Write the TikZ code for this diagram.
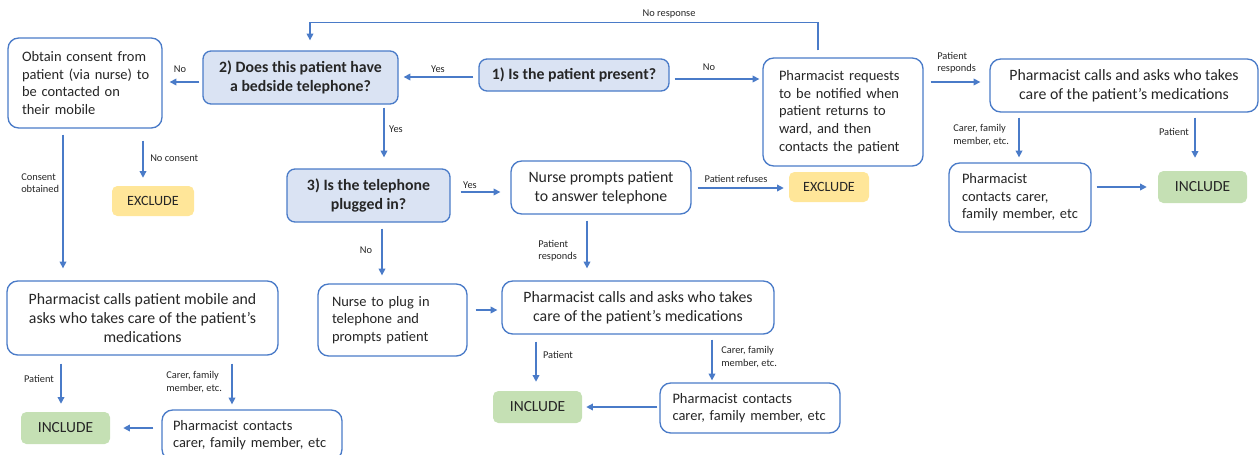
\documentclass[tikz,border=0pt]{standalone}
\usepackage{fontspec}
\setmainfont{Carlito}
\usetikzlibrary{calc,arrows.meta}
\definecolor{bl}{HTML}{4A7BC8}
\definecolor{qfill}{HTML}{DAE3F3}
\definecolor{gfill}{HTML}{C5E0B4}
\definecolor{yfill}{HTML}{FFE699}
\definecolor{txt}{HTML}{262626}
\begin{document}
\begin{tikzpicture}[x=0.75pt,y=-0.75pt,
  base/.style={draw=bl, line width=1pt, text=txt, inner sep=0pt, align=center},
  qbox/.style={base, fill=qfill, rounded corners=6pt, font=\bfseries\fontsize{11.85}{14.2}\selectfont},
  cbox/.style={base, fill=white, rounded corners=8pt, font=\fontsize{11.85}{14.2}\selectfont},
  lbox/.style={base, fill=white, rounded corners=8pt, align=left, font=\fontsize{10.85}{13.2}\selectfont},
  inc/.style={fill=gfill, rounded corners=4pt, text=txt, inner sep=0pt, minimum width=66.75pt, minimum height=24pt, font=\fontsize{11.6}{13}\selectfont},
  exc/.style={fill=yfill, rounded corners=4pt, text=txt, inner sep=0pt, minimum height=22.5pt, font=\fontsize{10.6}{12}\selectfont},
  arr/.style={draw=bl, line width=1pt, -{Triangle[length=5pt,width=5pt]}},
  lab/.style={font=\fontsize{7.8}{9.2}\selectfont, text=txt, inner sep=0pt, align=left}
]
\useasboundingbox (0,0) rectangle (1259,454);

% question boxes
\node[qbox, minimum width=142.5pt, minimum height=24pt] (q1) at (574,75) {1) Is the patient present?};
\node[qbox, minimum width=146.25pt, minimum height=39.75pt] (q2) at (300.5,77.5) {2) Does this patient have\\a bedside telephone?};
\node[qbox, minimum width=122.25pt, minimum height=39.75pt] (q3) at (368.5,195.5) {3) Is the telephone\\plugged in?};

% left aligned boxes
\node[lbox, minimum width=115.5pt, minimum height=67.5pt, inner xsep=10.5pt, text width=94.5pt] (consent) at (85,83)
  {Obtain~consent~from\\patient~(via~nurse)~to\\be~contacted~on\\their~mobile};
\node[lbox, minimum width=120pt, minimum height=81pt, inner xsep=12pt, text width=96pt] (req) at (843,112)
  {Pharmacist~requests\\to~be~notified~when\\patient~returns~to\\ward,~and~then\\contacts~the~patient};
\node[lbox, minimum width=106.5pt, minimum height=51.75pt, inner xsep=9.75pt, text width=87pt] (contR) at (1020,197.5)
  {Pharmacist\\contacts~carer,\\family~member,~etc};
\node[lbox, minimum width=111.75pt, minimum height=54pt, inner xsep=10.5pt, text width=90.75pt] (plug) at (392.5,320)
  {Nurse~to~plug~in\\telephone~and\\prompts~patient};
\node[lbox, minimum width=135pt, minimum height=37.5pt, inner xsep=9.375pt, text width=116.25pt] (contM) at (750,408)
  {Pharmacist~contacts\\carer,~family~member,~etc};
\node[lbox, minimum width=135pt, minimum height=37.5pt, inner xsep=8.25pt, text width=118.5pt] (contBL) at (252,435)
  {Pharmacist~contacts\\carer,~family~member,~etc};

% centered boxes
\node[cbox, minimum width=201pt, minimum height=39.75pt] (callsR) at (1124,85.5)
  {Pharmacist calls and asks who takes\\care of the patient’s medications};
\node[cbox, minimum width=135pt, minimum height=39.75pt] (nurseP) at (601,187.5)
  {Nurse prompts patient\\to answer telephone};
\node[cbox, minimum width=203.25pt, minimum height=55.5pt] (mobile) at (142.5,318)
  {Pharmacist calls patient mobile and\\asks who takes care of the patient’s\\medications};
\node[cbox, minimum width=204pt, minimum height=39.75pt] (callsM) at (638,307.5)
  {Pharmacist calls and asks who takes\\care of the patient’s medications};

% outcomes
\node[inc] (incR) at (1202.5,187) {INCLUDE};
\node[inc] (incM) at (537.5,407) {INCLUDE};
\node[inc] (incBL) at (65.5,428) {INCLUDE};
\node[exc, minimum width=60pt] (excM) at (829,187) {EXCLUDE};
\node[exc, minimum width=61.5pt] (excL) at (153,201) {EXCLUDE};

% connectors
\draw[arr] ($(q1.west)+(-5,2)$) -- ($(q2.east)+(5,-0.5)$);
\draw[arr] ($(q1.east)+(5,4)$) -- ($(req.west)+(-3,-33)$);
\draw[arr] ($(req.north)+(-25,-7)$) -- ++(0,-28) -| ($(q2.north)+(9.5,-10)$);
\draw[arr] ($(req.east)+(7,-30)$) -- ($(callsR.west)+(-9,-3.5)$);
\draw[arr] ($(callsR.south)+(-105,5)$) -- ($(contR.north)+(-1,-5)$);
\draw[arr] ($(callsR.south)+(71,5)$) -- ($(incR.north)+(-7.5,-13)$);
\draw[arr] ($(contR.east)+(5,-10.5)$) -- ($(incR.west)+(-11,0)$);
\draw[arr] ($(nurseP.east)+(6,0.5)$) -- ($(excM.west)+(-5,1)$);
\draw[arr] ($(q3.east)+(10,-3.5)$) -- ($(nurseP.west)+(-10,4.5)$);
\draw[arr] ($(q2.south)+(83.5,3)$) -- ($(q3.north)+(15.5,-11)$);
\draw[arr] ($(q2.west)+(-3,4.5)$) -- ($(consent.east)+(7,-1)$);
\draw[arr] ($(consent.south)+(58,12)$) -- ($(excL.north)+(-10,-8)$);
\draw[arr] ($(consent.south)+(-22,6)$) -- ($(mobile.north)+(-79.5,-12)$);
\draw[arr] ($(mobile.south)+(-81.5,8)$) -- ($(incBL.north)+(-4.5,-8)$);
\draw[arr] ($(mobile.south)+(89.5,8)$) -- ($(contBL.north)+(-20,-5)$);
\draw[arr] ($(contBL.west)+(-8,-7)$) -- ($(incBL.east)+(13,0)$);
\draw[arr] ($(q3.south)+(13.5,6)$) -- ($(plug.north)+(-10.5,-8)$);
\draw[arr] ($(plug.east)+(8,-10)$) -- ($(callsM.west)+(-4,2.5)$);
\draw[arr] ($(nurseP.south)+(-14,6)$) -- ($(callsM.north)+(-51,-12)$);
\draw[arr] ($(callsM.south)+(-102,7)$) -- ($(incM.north)+(-1.5,-9)$);
\draw[arr] ($(callsM.south)+(74,5)$) -- ($(contM.north)+(-38,-2)$);
\draw[arr] ($(contM.west)+(-2,-1)$) -- ($(incM.east)+(4,0)$);

% labels
\node[lab] (l1) at (669,14) {No response};
\node[lab] (l2) at (438,69) {Yes};
\node[lab] (l3) at (709,67) {No};
\node[lab] (l4) at (180,69) {No};
\node[lab] (l5) at (396,129) {Yes};
\node[lab, anchor=west] (l6) at (937,63) {Patient\\responds};
\node[lab, anchor=west] (l7) at (953,135) {Carer, family\\member, etc.};
\node[lab] (l8) at (1174,132) {Patient};
\node[lab] (l9) at (736,179) {Patient refuses};
\node[lab] (l10) at (470,185) {Yes};
\node[lab, anchor=west] (l11) at (150,158) {No consent};
\node[lab, anchor=west] (l12) at (21,183) {Consent\\obtained};
\node[lab] (l13) at (366,250) {No};
\node[lab, anchor=west] (l14) at (538,251) {Patient\\responds};
\node[lab] (l15) at (558,355) {Patient};
\node[lab, anchor=west] (l16) at (721,357) {Carer, family\\member, etc.};
\node[lab] (l17) at (39,379) {Patient};
\node[lab, anchor=west] (l18) at (166,382) {Carer, family\\member, etc.};
\end{tikzpicture}
\end{document}
